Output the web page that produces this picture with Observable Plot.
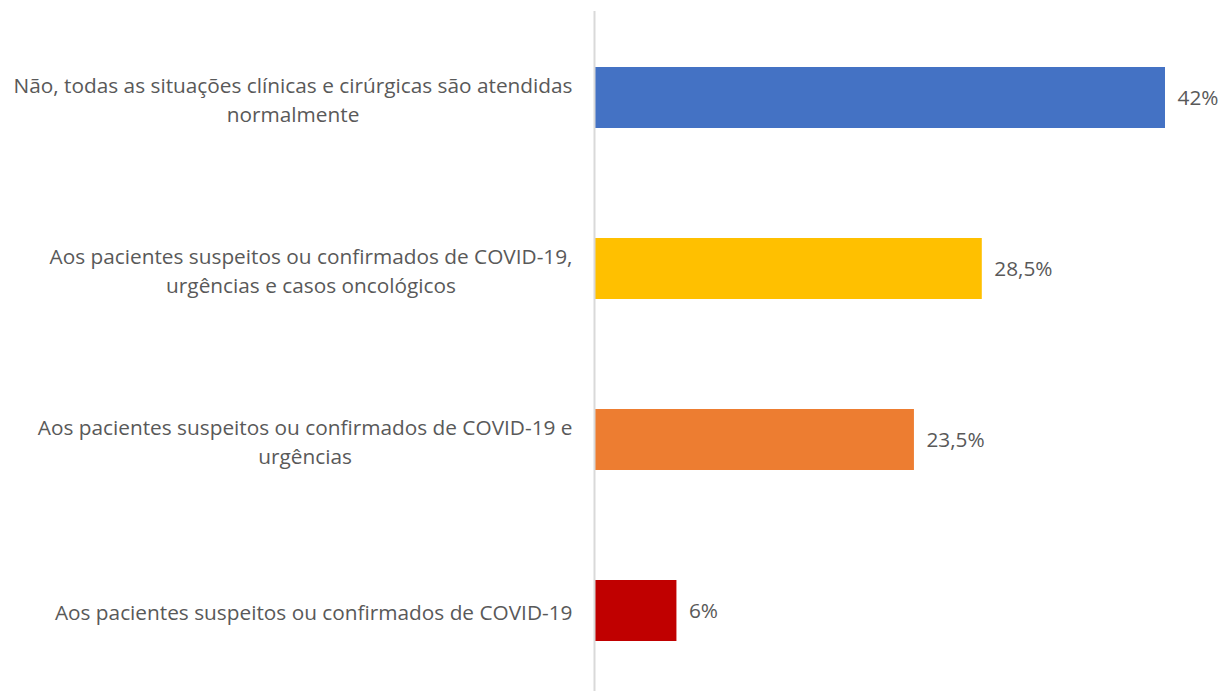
<!DOCTYPE html>
<html>
<head>
<meta charset="utf-8">
<script src="https://cdn.jsdelivr.net/npm/d3@7"></script>
<script src="https://cdn.jsdelivr.net/npm/@observablehq/plot@0.6"></script>
<style>
  html, body { margin: 0; padding: 0; background: #fff; }
  #chart svg { display: block; }
</style>
</head>
<body>
<div id="chart"></div>
<script>
// Data
const categories = [
  "Não, todas as situações clínicas e cirúrgicas são atendidas\nnormalmente",
  "Aos pacientes suspeitos ou confirmados de COVID-19,\nurgências e casos oncológicos",
  "Aos pacientes suspeitos ou confirmados de COVID-19 e\nurgências",
  "Aos pacientes suspeitos ou confirmados de COVID-19"
];
const values = [42, 28.5, 23.5, 6];
const colors = ["#4472C4", "#FFC000", "#ED7D31", "#C00000"];

const data = categories.map((c, i) => ({category: c, value: values[i], color: colors[i]}));
const fmt = v => String(v).replace(".", ",") + "%";

const textColor = "#595959";
const font = "'Open Sans', 'Noto Sans', sans-serif";

const chart = Plot.plot({
  width: 1224,
  height: 691,
  marginLeft: 595,
  marginRight: 59,
  marginTop: 24,
  marginBottom: 7,
  style: {fontFamily: font, fontSize: "20px", color: textColor, background: "#fff"},
  x: {domain: [0, 42], axis: null},
  y: {domain: categories, paddingInner: 0.643, paddingOuter: 0.25, axis: null},
  marks: [
    Plot.barX(data, {y: "category", x: "value", fill: "color"}),
    Plot.ruleX([0], {stroke: "#d9d9d9", strokeWidth: 2, insetTop: -13, insetBottom: -7, dx: -1}),
    Plot.text(data, {
      y: "category", x: 0, text: "category", textAnchor: "end", dx: -23,
      fill: textColor, fontSize: 20.8, lineHeight: 1.38, className: "ylabels"
    }),
    Plot.text(data, {
      y: "category", x: "value", text: d => fmt(d.value), textAnchor: "start", dx: 12,
      fill: textColor, fontSize: 20.8
    })
  ]
});

document.getElementById("chart").appendChild(chart);

// Center each wrapped line on the first line (as in the original).
d3.select(chart).selectAll(".ylabels text").each(function() {
  const tspans = this.querySelectorAll("tspan");
  if (tspans.length < 2) return;
  const w = tspans[0].getComputedTextLength();
  this.setAttribute("text-anchor", "middle");
  tspans.forEach(t => t.setAttribute("x", -w / 2));
});
</script>
</body>
</html>
